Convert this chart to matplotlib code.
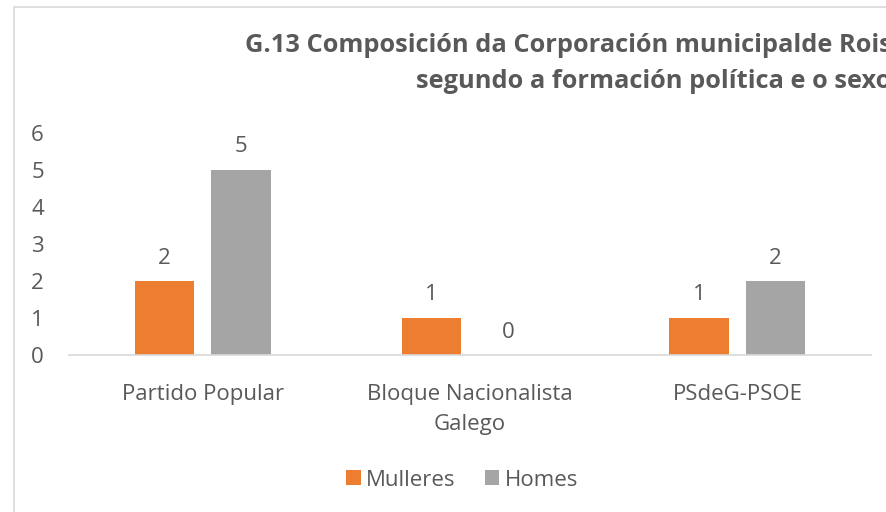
import matplotlib.pyplot as plt
import numpy as np
from matplotlib.patches import Rectangle

plt.rcParams['font.family'] = ['Open Sans', 'DejaVu Sans']

categories = ["Partido Popular", "Bloque Nacionalista\nGalego", "PSdeG-PSOE"]
mulleres = [2, 1, 1]
homes = [5, 0, 2]
series_names = ["Mulleres", "Homes"]
title_lines = ["G.13 Composición da Corporación municipalde Rois",
               "segundo a formación política e o sexo"]

orange = "#ED7D31"
grey = "#A5A5A5"
text_color = "#595959"
line_color = "#D9D9D9"
fs = 16

W, H = 886, 512
fig = plt.figure(figsize=(W / 100, H / 100), dpi=100)

# chart border (extends past right/bottom edges)
fig.patches.append(Rectangle((14 / W, -0.1), 1.2, 1 - 7 / H + 0.1,
                             transform=fig.transFigure, fill=False,
                             edgecolor=line_color, linewidth=1.2))

ax = fig.add_axes([69 / W, 157 / H, (871 - 69) / W, (355 - 133) / H])

x = np.arange(len(categories))
width = 0.222
gap = 0.064
b1 = ax.bar(x - (width + gap) / 2, mulleres, width, color=orange, label=series_names[0])
b2 = ax.bar(x + (width + gap) / 2, homes, width, color=grey, label=series_names[1])

for bars in (b1, b2):
    ax.bar_label(bars, padding=9, fontsize=fs, color=text_color)

ax.set_xlim(-0.5, len(categories) - 0.5)
ax.set_ylim(0, 6)
ax.set_yticks(range(0, 7))
ax.set_xticks(x)
ax.set_xticklabels(categories, linespacing=1.55)
ax.tick_params(axis='both', length=0, labelsize=fs, labelcolor=text_color)
ax.tick_params(axis='y', pad=18)
ax.tick_params(axis='x', pad=21)

for s in ['top', 'right', 'left']:
    ax.spines[s].set_visible(False)
ax.spines['bottom'].set_color(line_color)
ax.spines['bottom'].set_linewidth(1.2)

fig.text(245 / W, 1 - 45 / H, title_lines[0], fontsize=18.3, fontweight='bold',
         color=text_color, ha='left', va='center')
fig.text(416 / W, 1 - 82 / H, title_lines[1], fontsize=18.3, fontweight='bold',
         color=text_color, ha='left', va='center')

fig.legend(loc='center', bbox_to_anchor=(462 / W, 1 - 480 / H), ncol=2,
           frameon=False, fontsize=fs, labelcolor=text_color,
           handlelength=0.65, handleheight=0.65, handletextpad=0.25, columnspacing=1.3)

fig.savefig("out.png", dpi=100)
